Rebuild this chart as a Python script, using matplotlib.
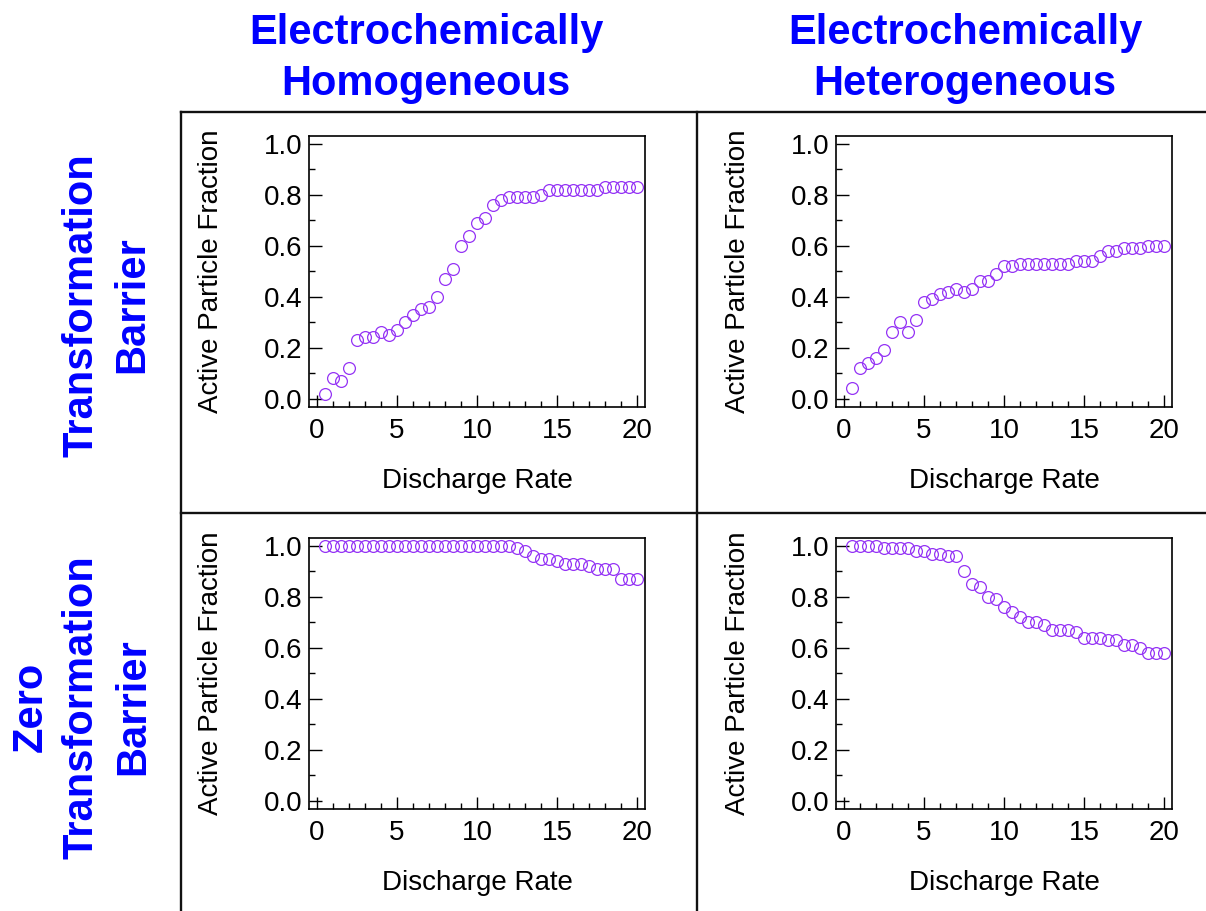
#!/usr/bin/env python3
"""Active particle fraction vs discharge rate, 2x2 grid of regimes."""
import matplotlib
matplotlib.use("Agg")
import matplotlib.pyplot as plt
from matplotlib.lines import Line2D
from matplotlib.ticker import MultipleLocator

plt.rcParams["font.family"] = ["Liberation Sans", "DejaVu Sans"]

# discharge rates (same for all four panels)
rate = [0.5, 1.0, 1.5, 2.0, 2.5, 3.0, 3.5, 4.0, 4.5, 5.0,
        5.5, 6.0, 6.5, 7.0, 7.5, 8.0, 8.5, 9.0, 9.5, 10.0,
        10.5, 11.0, 11.5, 12.0, 12.5, 13.0, 13.5, 14.0, 14.5, 15.0,
        15.5, 16.0, 16.5, 17.0, 17.5, 18.0, 18.5, 19.0, 19.5, 20.0]

# barrier, homogeneous
barrier_homog = [0.02, 0.08, 0.07, 0.12, 0.23, 0.24, 0.24, 0.26, 0.25, 0.27,
                 0.30, 0.33, 0.35, 0.36, 0.40, 0.47, 0.51, 0.60, 0.64, 0.69,
                 0.71, 0.76, 0.78, 0.79, 0.79, 0.79, 0.79, 0.80, 0.82, 0.82,
                 0.82, 0.82, 0.82, 0.82, 0.82, 0.83, 0.83, 0.83, 0.83, 0.83]

# barrier, heterogeneous
barrier_hetero = [0.04, 0.12, 0.14, 0.16, 0.19, 0.26, 0.30, 0.26, 0.31, 0.38,
                  0.39, 0.41, 0.42, 0.43, 0.42, 0.43, 0.46, 0.46, 0.49, 0.52,
                  0.52, 0.53, 0.53, 0.53, 0.53, 0.53, 0.53, 0.53, 0.54, 0.54,
                  0.54, 0.56, 0.58, 0.58, 0.59, 0.59, 0.59, 0.60, 0.60, 0.60]

# zero barrier, homogeneous
zero_homog = [1.00, 1.00, 1.00, 1.00, 1.00, 1.00, 1.00, 1.00, 1.00, 1.00,
              1.00, 1.00, 1.00, 1.00, 1.00, 1.00, 1.00, 1.00, 1.00, 1.00,
              1.00, 1.00, 1.00, 1.00, 0.99, 0.98, 0.96, 0.95, 0.95, 0.94,
              0.93, 0.93, 0.93, 0.92, 0.91, 0.91, 0.91, 0.87, 0.87, 0.87]

# zero barrier, heterogeneous
zero_hetero = [1.00, 1.00, 1.00, 1.00, 0.99, 0.99, 0.99, 0.99, 0.98, 0.98,
               0.97, 0.97, 0.96, 0.96, 0.90, 0.85, 0.84, 0.80, 0.79, 0.76,
               0.74, 0.72, 0.70, 0.70, 0.69, 0.67, 0.67, 0.67, 0.66, 0.64,
               0.64, 0.64, 0.63, 0.63, 0.61, 0.61, 0.60, 0.58, 0.58, 0.58]

col_titles = ["Electrochemically\nHomogeneous", "Electrochemically\nHeterogeneous"]
row_titles = ["Transformation\nBarrier", "Zero\nTransformation\nBarrier"]

W, H = 1206, 911
BLUE = "#0000ff"
PURPLE = "#9433f5"


def panel(fig, left_px, top_px, y):
    ax = fig.add_axes([left_px / W, 1 - (top_px + 271) / H, 336 / W, 271 / H])
    ax.plot(rate, y, "o", mfc="none", mec=PURPLE, ms=8.5, mew=0.9)
    ax.set_xlim(-0.5, 20.5)
    ax.set_ylim(-0.033, 1.031)
    ax.xaxis.set_major_locator(MultipleLocator(5))
    ax.xaxis.set_minor_locator(MultipleLocator(1))
    ax.yaxis.set_major_locator(MultipleLocator(0.2))
    ax.yaxis.set_minor_locator(MultipleLocator(0.1))
    ax.yaxis.set_major_formatter(plt.FuncFormatter(lambda v, p: f"{v:.1f}"))
    ax.tick_params(which="both", direction="in", top=False, right=False,
                   width=1.0, color="black")
    ax.tick_params(which="major", length=9)
    ax.tick_params(which="minor", length=4.5)
    ax.tick_params(axis="x", labelsize=20, pad=8)
    ax.tick_params(axis="y", labelsize=20, pad=5)
    for s in ax.spines.values():
        s.set_linewidth(1.2)
    ax.set_xlabel("Discharge Rate", fontsize=20)
    ax.set_ylabel("Active Particle Fraction", fontsize=20)
    ax.xaxis.set_label_coords(0.5, -0.225)
    ax.yaxis.set_label_coords(-0.253, 0.5)
    return ax


def main():
    fig = plt.figure(figsize=(W / 100, H / 100), dpi=100)

    panel(fig, 309, 136, barrier_homog)
    panel(fig, 836, 136, barrier_hetero)
    panel(fig, 309, 538, zero_homog)
    panel(fig, 836, 538, zero_hetero)

    # cell borders
    lw = 1.7
    for y in (112, 513):
        fig.add_artist(Line2D([181 / W, 1], [1 - y / H] * 2, color="#111111", lw=lw))
    for x in (181, 697):
        fig.add_artist(Line2D([x / W] * 2, [1 - 112 / H, 0], color="#111111", lw=lw))

    # column headers: baseline of the last line at y=95 px
    for x, t in zip((426, 965), col_titles):
        fig.text(x / W, 1 - 95 / H, t, ha="center", va="baseline", fontsize=30,
                 fontweight="bold", color=BLUE, linespacing=1.35)
    for (x, y), t in zip(((107, 305), (82, 707)), row_titles):
        fig.text(x / W, 1 - y / H, t, ha="center", va="center", rotation=90,
                 fontsize=30, fontweight="bold", color=BLUE, linespacing=1.35)

    fig.savefig("out.png", dpi=100, facecolor="white")
    plt.close(fig)


if __name__ == "__main__":
    main()
